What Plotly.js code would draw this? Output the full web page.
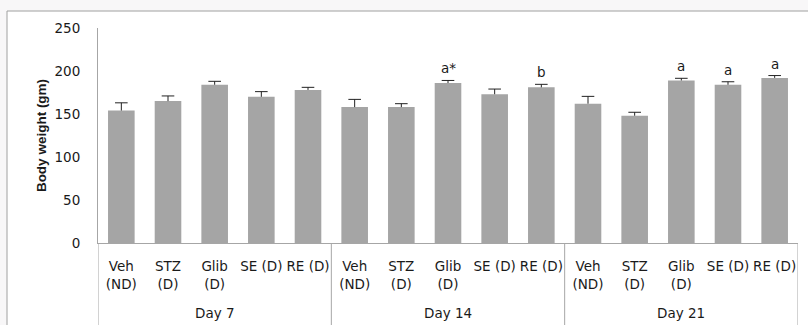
<!DOCTYPE html>
<html>
<head>
<meta charset="utf-8">
<script src="https://cdn.plot.ly/plotly-3.0.1.min.js"></script>
<style>html,body{margin:0;padding:0;background:#f8f7f8;}#chart{width:808px;height:325px;}</style>
</head>
<body>
<div id="chart"></div>
<script>
var groups = ["Day 7", "Day 14", "Day 21"];
var treatments = ["Veh<br>(ND)", "STZ<br>(D)", "Glib<br>(D)", "SE (D)", "RE (D)"];
var day7Values = [154, 165, 184, 170, 178];
var day14Values = [158, 158, 186, 173, 181];
var day21Values = [162, 148, 189, 184, 192];
var day7Errors = [9, 6, 4, 6, 3];
var day14Errors = [9, 4, 3, 6, 3.5];
var day21Errors = [8.5, 4, 2.5, 3.5, 2.7];
var day7Letters = ["", "", "", "", ""];
var day14Letters = ["", "", "a*", "", "b"];
var day21Letters = ["", "", "a", "a", "a"];
var yTitle = "Body weight (gm)";

var values = day7Values.concat(day14Values, day21Values);
var errors = day7Errors.concat(day14Errors, day21Errors);
var letters = day7Letters.concat(day14Letters, day21Letters);
var labels = treatments.concat(treatments, treatments);
var xs = labels.map(function (_, i) { return i; });
var tops = values.map(function (v, i) { return v + errors[i]; });
var nPer = treatments.length;

var axisColor = "#a6a6a6";
var textColor = "#1a1a1a";
var tickFont = {family: "DejaVu Sans", size: 13.5, color: textColor};

var bars = {
  type: "bar",
  x: xs,
  y: values,
  marker: {color: "#a5a5a5", line: {width: 0}},
  error_y: {type: "data", array: errors, arrayminus: errors.map(function () { return 0; }),
            symmetric: false, color: "#222", thickness: 1, width: 0},
  hoverinfo: "none"
};
var caps = {
  type: "scatter", mode: "markers",
  x: xs, y: tops,
  marker: {symbol: "line-ew", size: 9, color: "#222", line: {color: "#222", width: 1}},
  hoverinfo: "none"
};

var shapes = [{
  type: "rect", xref: "paper", yref: "paper", x0: -0.13, x1: 1.1, y0: -0.6, y1: 1.079,
  line: {color: "#a0a0a0", width: 1}, fillcolor: "#ffffff", layer: "below"
}];
for (var g = 0; g <= groups.length; g++) {
  shapes.push({type: "line", xref: "x", yref: "paper", x0: g * nPer - 0.5, x1: g * nPer - 0.5,
    y0: 0, y1: -0.5, line: {color: axisColor, width: 1}});
}

var annotations = [];
groups.forEach(function (name, g) {
  annotations.push({text: name, xref: "x", yref: "paper", x: g * nPer + (nPer - 1) / 2, y: -0.324,
    yanchor: "middle", showarrow: false, font: tickFont});
});
letters.forEach(function (t, i) {
  if (!t) return;
  annotations.push({text: t, xref: "x", yref: "y", x: xs[i], y: tops[i],
    yanchor: "bottom", yshift: 2, showarrow: false, font: tickFont});
});

var layout = {
  width: 808, height: 325,
  margin: {l: 98, r: 10, t: 28, b: 82, pad: 0},
  paper_bgcolor: "#f8f7f8",
  plot_bgcolor: "rgba(0,0,0,0)",
  showlegend: false,
  bargap: 0.43,
  xaxis: {
    range: [-0.5, xs.length - 0.5], tickvals: xs, ticktext: labels,
    showgrid: false, zeroline: false, showline: true, linecolor: axisColor, linewidth: 1,
    ticks: "", tickfont: tickFont, ticklabelstandoff: 11, fixedrange: true
  },
  yaxis: {
    range: [0, 250], dtick: 50, showgrid: false, zeroline: false,
    showline: true, linecolor: axisColor, linewidth: 1, ticks: "",
    tickfont: tickFont, ticklabelstandoff: 14,
    title: {text: yTitle, font: {family: "Liberation Sans", size: 13.5, color: textColor, weight: "bold"}, standoff: 4},
    fixedrange: true
  },
  shapes: shapes,
  annotations: annotations,
  font: tickFont
};

Plotly.newPlot("chart", [bars, caps], layout, {staticPlot: true, displayModeBar: false});
</script>
</body>
</html>
